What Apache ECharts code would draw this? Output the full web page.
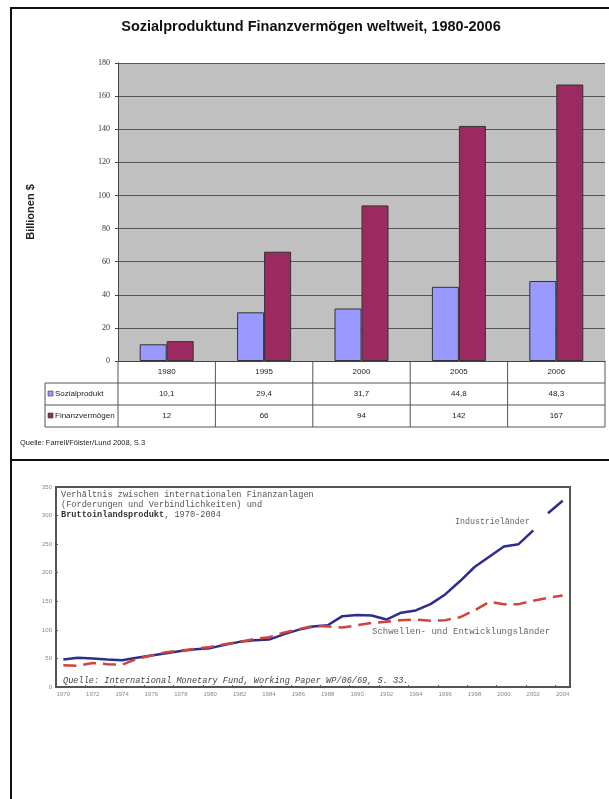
<!DOCTYPE html>
<html>
<head>
<meta charset="utf-8">
<title>Sozialprodukt und Finanzvermögen weltweit</title>
<script src="https://cdn.jsdelivr.net/npm/echarts@6/dist/echarts.min.js"></script>
<style>
html, body { margin: 0; padding: 0; background: #fff; }
#main { width: 609px; height: 799px; }
</style>
</head>
<body>
<div id="main"></div>
<script>
// oberes Diagramm, Billionen $
var jahre = ['1980', '1995', '2000', '2005', '2006'];
var sozialprodukt = [10.1, 29.4, 31.7, 44.8, 48.3];
var finanzvermoegen = [12, 66, 94, 142, 167];
var reihenNamen = ['Sozialprodukt', 'Finanzvermögen'];

// unteres Diagramm, Finanzanlagen in % des BIP
var jahreLinie = ['1970', '1971', '1972', '1973', '1974', '1975', '1976', '1977', '1978', '1979',
    '1980', '1981', '1982', '1983', '1984', '1985', '1986', '1987', '1988', '1989',
    '1990', '1991', '1992', '1993', '1994', '1995', '1996', '1997', '1998', '1999',
    '2000', '2001', '2002', '2003', '2004'];
var industrie = [48, 51, 50, 48, 47, 51, 55, 59, 63, 66,
    68, 74, 79, 82, 83, 92, 100, 106, 108, 124,
    126, 125, 118, 130, 134, 145, 162, 185, 210, 228,
    246, 250, 274, 304, 326];
var schwellen = [38, 37, 42, 40, 39, 49, 55, 61, 64, 67,
    70, 75, 79, 84, 87, 95, 101, 107, 106, 104,
    108, 112, 114, 117, 118, 116, 117, 122, 134, 149,
    145, 145, 151, 156, 160];

var farbeSozial = '#9999ff';
var farbeFinanz = '#9b2a60';

var myChart = echarts.init(document.getElementById('main'));

// Tabelle unter dem Balkendiagramm
var GL = 118, GW = 487, colW = GW / jahre.length;
var r0 = 361, rowH = 22, labelX = 45;
var tabelle = [];
var linie = {stroke: '#555', lineWidth: 1};
for (var r = 1; r <= 3; r++) {
    tabelle.push({type: 'line', shape: {x1: labelX, y1: r0 + r * rowH, x2: GL + GW, y2: r0 + r * rowH}, style: linie});
}
tabelle.push({type: 'line', shape: {x1: labelX, y1: r0 + rowH, x2: labelX, y2: r0 + 3 * rowH}, style: linie});
for (var k = 0; k <= jahre.length; k++) {
    tabelle.push({type: 'line', shape: {x1: GL + k * colW, y1: r0, x2: GL + k * colW, y2: r0 + 3 * rowH}, style: linie});
}
var zellen = [jahre, sozialprodukt.map(function (v) { return String(v).replace('.', ','); }),
    finanzvermoegen.map(String)];
zellen.forEach(function (zeile, ri) {
    zeile.forEach(function (t, ci) {
        tabelle.push({
            type: 'text', x: GL + (ci + 0.5) * colW, y: r0 + (ri + 0.5) * rowH,
            style: {text: t, fill: '#222', font: '8px "Liberation Sans Narrow", sans-serif', align: 'center', verticalAlign: 'middle'}
        });
    });
});
[farbeSozial, farbeFinanz].forEach(function (c, i) {
    var y = r0 + (i + 1.5) * rowH;
    tabelle.push({type: 'rect', shape: {x: labelX + 3, y: y - 3, width: 5, height: 5}, style: {fill: c, stroke: '#333', lineWidth: 0.6}});
    tabelle.push({
        type: 'text', x: labelX + 10, y: y,
        style: {text: reihenNamen[i], fill: '#222', font: '8px "Liberation Sans Narrow", sans-serif', verticalAlign: 'middle'}
    });
});

var monoFont = '8.6px "Liberation Mono", monospace';

var option = {
    backgroundColor: '#fff',
    animation: false,
    grid: [
        {left: GL, top: 63, width: GW, height: 298, show: true, backgroundColor: '#c0c0c0', borderWidth: 0},
        {left: 56, top: 487, width: 514, height: 200, show: true, backgroundColor: '#fff', borderColor: '#555', borderWidth: 2}
    ],
    xAxis: [
        {
            type: 'category', gridIndex: 0, data: jahre,
            axisLabel: {show: false}, axisTick: {show: false},
            axisLine: {lineStyle: {color: '#444'}}
        },
        {
            type: 'category', gridIndex: 1, data: jahreLinie, boundaryGap: true,
            axisLabel: {interval: 1, fontSize: 6, color: '#888', margin: 4},
            axisTick: {show: true, interval: 1, length: 2, inside: true, lineStyle: {color: '#555'}},
            axisLine: {lineStyle: {color: '#555', width: 2}}
        }
    ],
    yAxis: [
        {
            type: 'value', gridIndex: 0, min: 0, max: 180, interval: 20,
            name: 'Billionen $', nameLocation: 'middle', nameRotate: 90, nameGap: 82,
            nameTextStyle: {fontSize: 11, fontWeight: 'bold', color: '#222', fontFamily: 'Liberation Sans'},
            axisLabel: {fontSize: 8, color: '#333', margin: 8, fontFamily: 'Liberation Sans Narrow'},
            axisLine: {show: true, lineStyle: {color: '#444'}},
            axisTick: {show: true, length: 3, lineStyle: {color: '#444'}},
            splitLine: {lineStyle: {color: '#555', width: 1}}
        },
        {
            type: 'value', gridIndex: 1, min: 0, max: 350, interval: 50,
            axisLabel: {fontSize: 6, color: '#888', margin: 4},
            axisLine: {show: true, lineStyle: {color: '#555', width: 2}},
            axisTick: {show: true, length: 2, inside: true, lineStyle: {color: '#555'}},
            splitLine: {show: false}
        }
    ],
    series: [
        {
            name: reihenNamen[0], type: 'bar', xAxisIndex: 0, yAxisIndex: 0,
            data: sozialprodukt, barWidth: 27, barGap: '0%',
            itemStyle: {color: farbeSozial, borderColor: '#333', borderWidth: 1}
        },
        {
            name: reihenNamen[1], type: 'bar', xAxisIndex: 0, yAxisIndex: 0,
            data: finanzvermoegen, barWidth: 27,
            itemStyle: {color: farbeFinanz, borderColor: '#333', borderWidth: 1}
        },
        {
            name: 'Industrieländer', type: 'line', xAxisIndex: 1, yAxisIndex: 1,
            data: industrie.map(function (v, i) { return jahreLinie[i] <= '2002' ? v : null; }),
            symbol: 'none', lineStyle: {color: '#2d2d8c', width: 2.5}
        },
        {
            name: 'Industrieländer 2003-2004', type: 'line', xAxisIndex: 1, yAxisIndex: 1,
            data: industrie.map(function (v, i) { return jahreLinie[i] >= '2003' ? v : null; }),
            symbol: 'none', lineStyle: {color: '#2d2d8c', width: 2.5}
        },
        {
            name: 'Schwellen- und Entwicklungsländer', type: 'line', xAxisIndex: 1, yAxisIndex: 1,
            data: schwellen, symbol: 'none',
            lineStyle: {color: '#d2433c', width: 2.5, type: [13, 7]}
        }
    ],
    graphic: [
        {type: 'line', shape: {x1: 10, y1: 8, x2: 609, y2: 8}, style: {stroke: '#111', lineWidth: 2}},
        {type: 'line', shape: {x1: 11, y1: 8, x2: 11, y2: 799}, style: {stroke: '#111', lineWidth: 2}},
        {type: 'line', shape: {x1: 10, y1: 460, x2: 609, y2: 460}, style: {stroke: '#111', lineWidth: 2}},
        {
            type: 'text', x: 311, y: 27,
            style: {text: 'Sozialproduktund Finanzvermögen weltweit, 1980-2006', fill: '#111',
                font: 'bold 14.5px "Liberation Sans", Arial, sans-serif', align: 'center', verticalAlign: 'middle'}
        },
        {
            type: 'text', x: 20, y: 443,
            style: {text: 'Quelle: Farrell/Fölster/Lund 2008, S.3', fill: '#222',
                font: '7.5px "Liberation Sans Narrow", sans-serif', verticalAlign: 'middle'}
        },
        {type: 'group', children: tabelle},
        {
            type: 'text', x: 61, y: 495,
            style: {text: 'Verhältnis zwischen internationalen Finanzanlagen', fill: '#555', font: monoFont, verticalAlign: 'middle'}
        },
        {
            type: 'text', x: 61, y: 505,
            style: {text: '(Forderungen und Verbindlichkeiten) und', fill: '#555', font: monoFont, verticalAlign: 'middle'}
        },
        {
            type: 'text', x: 61, y: 515,
            style: {
                text: '{b|Bruttoinlandsprodukt}, 1970-2004', fill: '#555', font: monoFont, verticalAlign: 'middle',
                rich: {b: {fontWeight: 'bold', fill: '#333', fontFamily: 'Liberation Mono', fontSize: 8.6}}
            }
        },
        {
            type: 'text', x: 455, y: 522,
            style: {text: 'Industrieländer', fill: '#666', font: '8.3px "Liberation Mono", monospace', verticalAlign: 'middle'}
        },
        {
            type: 'text', x: 372, y: 632,
            style: {text: 'Schwellen- und Entwicklungsländer', fill: '#666', font: '9px "Liberation Mono", monospace', verticalAlign: 'middle'}
        },
        {
            type: 'text', x: 63, y: 681,
            style: {text: 'Quelle: International Monetary Fund, Working Paper WP/06/69, S. 33.', fill: '#444',
                font: 'italic 8.6px "Liberation Mono", monospace', verticalAlign: 'middle'}
        }
    ]
};

myChart.setOption(option);
</script>
</body>
</html>
